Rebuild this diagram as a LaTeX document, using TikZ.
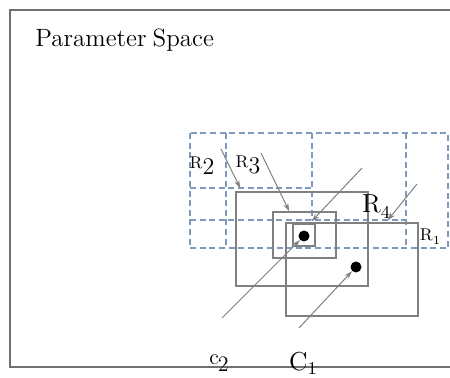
\documentclass[tikz,border=0pt]{standalone}
\usepackage{tikz}
\usetikzlibrary{arrows.meta, fit}
\definecolor{gridblue}{RGB}{128,154,190}
\definecolor{boxgray}{RGB}{128,128,128}
\definecolor{framegray}{RGB}{112,112,112}

\begin{document}
\begin{tikzpicture}[x=0.5pt, y=-0.5pt,
    box/.style={draw=boxgray, line width=0.75pt, inner sep=0pt},
    dot/.style={circle, fill=black, inner sep=0pt, minimum size=5.5pt},
    arr/.style={-{Stealth[length=4pt, width=2.6pt]}, boxgray, line width=0.5pt},
    gridline/.style={gridblue, dash pattern=on 3pt off 1.8pt, line width=0.75pt},
    lbl/.style={inner sep=0pt, font=#1}
]
\useasboundingbox (0,0) rectangle (450,378);

%% ── Frame and title ────────────────────────────────────────────────────
\draw[framegray, line width=0.8pt] (450,10) -- (10,10) -- (10,367) -- (450,367);
\node[lbl=\fontsize{12.5}{15}\selectfont, anchor=west] (title) at (35,40)
      {Parameter\kern-1pt\ Space};

%% ── Dashed grid ────────────────────────────────────────────────────────
\draw[gridline] (190,133) rectangle (448,248);
\draw[gridline] (190,188) -- (312,188);
\draw[gridline] (190,220) -- (406,220);
\draw[gridline] (226,133) -- (226,248);
\draw[gridline] (312,133) -- (312,220);
\draw[gridline] (406,133) -- (406,248);

%% ── Solid boxes ────────────────────────────────────────────────────────
\node[box, fit={(236,192) (368,286)}] (rA) {};
\node[box, fit={(286,223) (418,316)}] (rB) {};
\node[box, fit={(273,212) (336,258)}] (rC) {};
\node[box, fit={(293,224) (315,246)}] (rD) {};

%% ── Points ─────────────────────────────────────────────────────────────
\node[dot] (d2) at (304,236) {};
\node[dot] (d1) at (356,267) {};

%% ── Labels ─────────────────────────────────────────────────────────────
\node[lbl=\fontsize{8.5}{10}\selectfont] (lR2) at (202,166)
      {R\raisebox{-3pt}{\fontsize{12}{14}\selectfont 2}};
\node[lbl=\fontsize{8.5}{10}\selectfont] (lR3) at (248,165)
      {R\raisebox{-3pt}{\fontsize{12}{14}\selectfont 3}};
\node[lbl=\fontsize{13}{15}\selectfont] (lR4) at (376,207)
      {R\raisebox{-3pt}{\fontsize{9}{10}\selectfont 4}};
\node[lbl=\fontsize{8.5}{10}\selectfont] (lR1) at (430,237)
      {R\raisebox{-2pt}{\fontsize{6}{7}\selectfont 1}};
\node[lbl=\fontsize{11}{13}\selectfont] (lc2) at (219,363)
      {\raisebox{3.5pt}{c}\kern-0.5pt2};
\node[lbl=\fontsize{13}{15}\selectfont] (lc1) at (303,363)
      {C\raisebox{-2pt}{\fontsize{9}{10}\selectfont 1}};

%% ── Arrow tails ────────────────────────────────────────────────────────
\coordinate (t2) at (222,318);
\coordinate (t1) at (299,328);
\coordinate (tD) at (362,168);
\coordinate (tA) at (221,149);
\coordinate (tC) at (261,153);
\coordinate (tB) at (417,184);

%% ── Arrows ─────────────────────────────────────────────────────────────
\draw[arr] (t2) -- (d2);
\draw[arr] (t1) -- (d1);
\draw[arr] (tD) -- ([xshift=-2pt, yshift=1pt]rD.north east);
\draw[arr] (tA) -- ([xshift=2.5pt, yshift=1.5pt]rA.north west);
\draw[arr] (tC) -- ([xshift=8.5pt]rC.north west);
\draw[arr] (tB) -- ([xshift=-15.5pt, yshift=1pt]rB.north east);
\end{tikzpicture}
\end{document}
